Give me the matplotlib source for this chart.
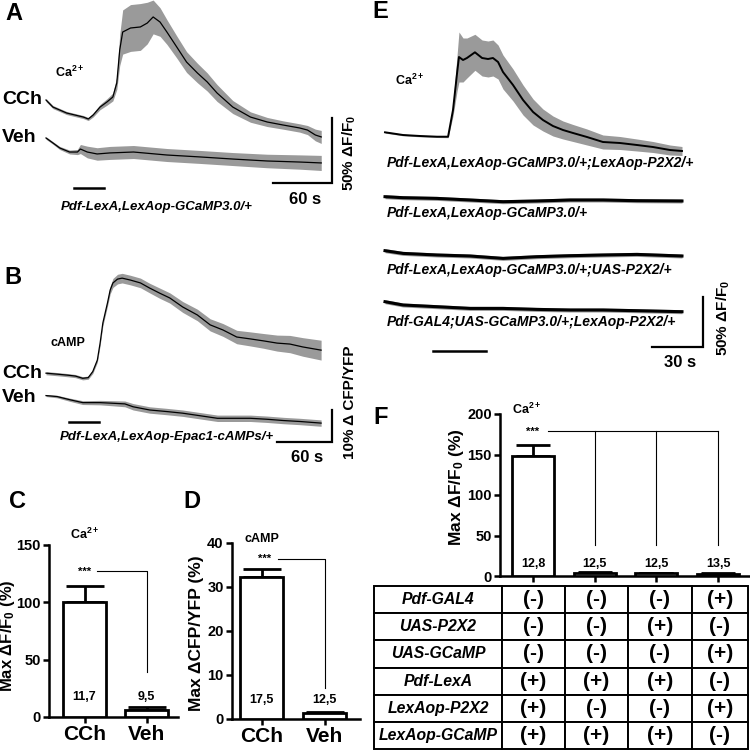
import matplotlib
matplotlib.use('Agg')
import matplotlib.pyplot as plt
import numpy as np

plt.rcParams['font.family'] = ['Liberation Sans', 'DejaVu Sans']
plt.rcParams['font.weight'] = 'bold'
plt.rcParams['mathtext.fontset'] = 'custom'
plt.rcParams['mathtext.rm'] = 'Liberation Sans:bold'
plt.rcParams['mathtext.bf'] = 'Liberation Sans:bold'
plt.rcParams['mathtext.it'] = 'Liberation Sans:bold:italic'
plt.rcParams['mathtext.default'] = 'bf'

# ---------------- data ----------------
# Panel A (Ca2+, GCaMP3.0): time (s), dF/F (%), SEM (%)
a_cch_t = [0, 7, 21, 38, 43, 48, 55, 62, 68, 72, 75, 78, 86, 96, 103, 109, 116, 123, 133, 143,
           154, 164, 174, 190, 208, 225, 241, 258, 266, 274, 280]
a_cch_v = [14.6, 9.2, 4.6, 1.5, 0.0, 3.1, 9.2, 13.1, 16.9, 27.7, 53.1, 66.9, 70.0, 70.8, 73.8, 78.5,
           74.6, 66.9, 55.4, 43.8, 35.4, 28.5, 20.0, 9.2, 1.5, -2.3, -4.6, -6.9, -8.5, -12.3, -13.8]
a_cch_sem = [1.2, 1.2, 1.2, 1.2, 1.2, 1.5, 2, 2.5, 3, 5, 12, 17, 18, 18, 16, 13, 11, 9.5, 8.5, 8,
             7.5, 7, 6.5, 5, 4, 3.5, 3.2, 3.2, 3.5, 4.5, 5]
a_veh_t = [0, 7, 14, 24, 32, 35, 42, 52, 65, 89, 123, 157, 190, 225, 258, 280]
a_veh_v = [0, -3.8, -7.7, -10.8, -10.8, -8.5, -10.8, -12.3, -11.5, -10.8, -13.1, -14.6, -16.2,
           -17.7, -18.5, -19.2]
a_veh_sem = [1, 1, 1.2, 1.5, 2, 3.5, 4.5, 4.8, 5, 5, 5, 5, 5, 5.2, 5.5, 5.8]

# Panel B (cAMP, Epac1-cAMPs): time (s), dCFP/YFP (%), SEM (%)
b_cch_t = [0, 12, 23, 32, 40, 46, 51, 56, 59, 62, 67, 70, 73, 78, 83, 92, 103, 113, 124, 135,
           149, 165, 179, 193, 208, 223, 237, 252, 266, 280, 300]
b_cch_v = [1.6, 1.3, 1.0, 0.7, 0.0, 0.2, 2.1, 5.7, 11.0, 17.3, 23.5, 27.6, 29.8, 31.0, 31.3, 30.7,
           29.8, 28.2, 26.6, 25.1, 22.3, 19.8, 16.7, 15.1, 12.9, 12.3, 11.7, 11.0, 10.7, 9.8, 8.8]
b_cch_sem = [0.5, 0.5, 0.5, 0.5, 0.5, 0.5, 0.6, 0.7, 0.8, 0.9, 1.0, 1.2, 1.4, 1.5, 1.5, 1.5, 1.5,
             1.5, 1.6, 1.6, 1.7, 1.8, 1.9, 2.0, 2.1, 2.2, 2.3, 2.5, 2.7, 2.9, 3.1]
b_veh_t = [0, 12, 26, 40, 59, 73, 86, 95, 113, 132, 149, 168, 187, 204, 223, 241, 259, 277, 300]
b_veh_v = [0, -0.3, -1.3, -2.2, -2.2, -2.4, -2.6, -3.5, -4.5, -5.0, -5.5, -6.3, -7.1, -7.1, -7.1,
           -7.4, -7.8, -8.1, -8.6]
b_veh_sem = [0.3, 0.4, 0.5, 0.6, 0.7, 0.8, 0.9, 1.0, 1.0, 1.0, 1.0, 1.0, 1.0, 1.0, 1.0, 1.0, 1.0,
             1.0, 1.0]

# Panel E (Ca2+ response to ATP via P2X2): time (s), dF/F (%), SEM (%)
e_p2x2_t = [0, 10.6, 20.6, 30.6, 37.1, 40.0, 42.4, 43.5, 45.9, 48.2, 52.9, 57.1, 60.6, 63.5, 66.5,
            69.4, 75.3, 81.2, 87.1, 92.9, 98.8, 104.7, 110.6, 118.8, 128.2, 138.2, 148.2, 157.6,
            167.6, 174.7]
e_p2x2_v = [4.7, 2.0, 1.0, 0.3, 0.3, 27, 64, 80, 77, 79, 84.7, 79, 78, 79, 75, 65, 52, 37, 25, 17,
            11, 7, 4, 0, -5, -6, -8, -10, -13, -14]
e_p2x2_sem = [0.8, 0.8, 0.8, 0.8, 1, 6, 18, 25, 22, 20, 18, 18, 18, 18, 17, 17, 16, 15, 13, 11,
              10, 9, 8.5, 8, 7, 6.5, 6, 5.5, 5, 4.5]
e_ctrl_t = [0, 10.6, 30.6, 50.0, 69.4, 89.4, 108.8, 128.2, 148.2, 174.7]
e_ctrl1_v = [0, -1, -1.7, -3.3, -5, -4.3, -3.3, -3.3, -4, -4.3]
e_ctrl2_v = [0, -2.7, -4.3, -5.3, -7.7, -6, -5, -4.3, -3.7, -5.3]
e_ctrl3_v = [0, -3.3, -5, -6.7, -6.7, -7.7, -8.3, -8.3, -9, -10]
e_labels = ['Pdf-LexA,LexAop-GCaMP3.0/+;LexAop-P2X2/+',
            'Pdf-LexA,LexAop-GCaMP3.0/+',
            'Pdf-LexA,LexAop-GCaMP3.0/+;UAS-P2X2/+',
            'Pdf-GAL4;UAS-GCaMP3.0/+;LexAop-P2X2/+']

# Panel C
c_groups = ['CCh', 'Veh']
c_means = [100, 6]
c_errs = [14, 2.5]
c_n = ['11,7', '9,5']
# Panel D
d_groups = ['CCh', 'Veh']
d_means = [32.2, 1.3]
d_errs = [1.8, 0.4]
d_n = ['17,5', '12,5']
# Panel F
f_means = [148, 4.2, 3.3, 2.5]
f_errs = [14, 1.3, 1.0, 0.8]
f_n = ['12,8', '12,5', '12,5', '13,5']
table_rows = ['Pdf-GAL4', 'UAS-P2X2', 'UAS-GCaMP', 'Pdf-LexA', 'LexAop-P2X2', 'LexAop-GCaMP']
table_marks = [['(-)', '(-)', '(-)', '(+)'],
               ['(-)', '(-)', '(+)', '(-)'],
               ['(-)', '(-)', '(-)', '(+)'],
               ['(+)', '(+)', '(+)', '(-)'],
               ['(+)', '(-)', '(-)', '(+)'],
               ['(+)', '(+)', '(+)', '(-)']]

# ---------------- figure ----------------
W, H = 750, 751
fig = plt.figure(figsize=(W / 100, H / 100), dpi=100)
GREY = '#9a9a9a'


def pax(x0, y0, x1, y1):
    return fig.add_axes([x0 / W, 1 - y1 / H, (x1 - x0) / W, (y1 - y0) / H])


def ftxt(x, y, s, **kw):
    kw.setdefault('ha', 'center')
    kw.setdefault('va', 'center')
    fig.text(x / W, 1 - y / H, s, **kw)


def trace_axes(box, t0px, pps, basepx, ppu):
    x0, y0, x1, y1 = box
    ax = pax(x0, y0, x1, y1)
    ax.set_xlim((x0 - t0px) / pps, (x1 - t0px) / pps)
    ax.set_ylim((basepx - y1) / ppu, (basepx - y0) / ppu)
    ax.axis('off')
    return ax


def trace(ax, t, v, sem, off=0.0, lw=0.9):
    t = np.asarray(t, float)
    v = np.asarray(v, float) + off
    s = np.asarray(sem, float)
    ax.fill_between(t, v - s, v + s, color=GREY, lw=0)
    ax.plot(t, v, color='black', lw=lw)


def scalebar(ax, x0, x1, y0, y1):
    ax.plot([x0, x1, x1], [y0, y0, y1], color='black', lw=1.6, clip_on=False,
            solid_joinstyle='miter')


# ---- Panel A ----
axA = trace_axes((40, 0, 345, 198), 46, 0.983, 119, 1.3)
trace(axA, a_cch_t, a_cch_v, a_cch_sem)
trace(axA, a_veh_t, a_veh_v, a_veh_sem, off=-14.6)
axA.plot([28, 59], [-53.1, -53.1], color='black', lw=1.8)
scalebar(axA, 231, 291, -49.2, 0.8)
ftxt(14, 14, 'A', fontsize=17)
ftxt(2, 100, 'CCh', fontsize=14, ha='left')
ftxt(2, 137, 'Veh', fontsize=14, ha='left')
ftxt(70, 72, 'Ca$^{2+}$', fontsize=9)
ftxt(157, 207, 'Pdf-LexA,LexAop-GCaMP3.0/+', fontsize=9.5, style='italic')
ftxt(305, 200, '60 s', fontsize=12)
ftxt(349, 153, '50% ΔF/F$_0$', fontsize=11, rotation=90)

# ---- Panel B ----
axB = trace_axes((40, 260, 345, 450), 46, 0.917, 378.3, 3.2)
trace(axB, b_cch_t, b_cch_v, b_cch_sem)
trace(axB, b_veh_t, b_veh_v, b_veh_sem, off=-5.4)
axB.plot([25, 58], [-13.7, -13.7], color='black', lw=1.8)
scalebar(axB, 252, 312, -19.9, -9.9)
ftxt(13, 278, 'B', fontsize=17)
ftxt(68, 343, 'cAMP', fontsize=9)
ftxt(2, 373, 'CCh', fontsize=14, ha='left')
ftxt(2, 397, 'Veh', fontsize=14, ha='left')
ftxt(167, 437, 'Pdf-LexA,LexAop-Epac1-cAMPs/+', fontsize=9.5, style='italic')
ftxt(307, 457, '60 s', fontsize=12)
ftxt(350, 402, '10% Δ CFP/YFP', fontsize=11, rotation=90)

# ---- Panel E ----
axE = trace_axes((378, 20, 712, 360), 385, 1.7, 137, 1.0)
trace(axE, e_p2x2_t, e_p2x2_v, e_p2x2_sem, lw=1.4)
for vals, off in [(e_ctrl1_v, -59.7), (e_ctrl2_v, -113.7), (e_ctrl3_v, -164.7)]:
    trace(axE, e_ctrl_t, vals, [2.0] * len(vals), off=off, lw=2.2)
axE.plot([28.2, 59.4], [-214, -214], color='black', lw=1.8)
scalebar(axE, 157, 187, -210, -160)
ftxt(380, 12, 'E', fontsize=17)
ftxt(410, 80, 'Ca$^{2+}$', fontsize=9)
for lab, yy in zip(e_labels, [163, 213, 270, 322]):
    ftxt(387, yy, lab, fontsize=10, style='italic', ha='left')
ftxt(680, 363, '30 s', fontsize=12)
ftxt(723, 318, '50% ΔF/F$_0$', fontsize=11, rotation=90)


# ---- bar panels ----
def bar_axes(box, ylim, yticks, xlim):
    ax = pax(*box)
    ax.set_ylim(*ylim)
    ax.set_xlim(*xlim)
    ax.patch.set_alpha(0)
    for s in ['top', 'right']:
        ax.spines[s].set_visible(False)
    for s in ['left', 'bottom']:
        ax.spines[s].set_linewidth(1.8)
    ax.tick_params(width=1.8, length=4, labelsize=10.5, pad=2)
    ax.set_yticks(yticks)
    return ax


def bars(ax, means, errs, cap):
    x = np.arange(len(means))
    ax.bar(x, means, width=0.68, color='white', edgecolor='black', lw=2, zorder=3)
    ax.errorbar(x, means, yerr=[np.zeros(len(means)), errs], fmt='none', ecolor='black',
                elinewidth=2, capsize=cap, capthick=2, zorder=2)
    return x


# C
axC = bar_axes((49, 545, 178, 717), (0, 150), [0, 50, 100, 150], (-0.573, 1.508))
xc = bars(axC, c_means, c_errs, 14)
axC.set_xticks(xc)
axC.set_xticklabels(c_groups, fontsize=15)
axC.plot([0.2, 1, 1], [127, 127, 39], color='black', lw=0.8)
axC.text(0, 127, '***', fontsize=8, ha='center', va='center')
for xi, s in zip(xc, c_n):
    axC.text(xi, 17.6, s, fontsize=9, ha='center', va='center')
axC.text(0, 159, 'Ca$^{2+}$', fontsize=9, ha='center', va='center')
ftxt(17, 502, 'C', fontsize=17)
ftxt(8, 636, 'Max ΔF/F$_0$ (%)', fontsize=12, rotation=90)

# D
axD = bar_axes((232, 543, 360, 719), (0, 40), [0, 10, 20, 30, 40], (-0.471, 1.560))
xd = bars(axD, d_means, d_errs, 14)
axD.set_xticks(xd)
axD.set_xticklabels(d_groups, fontsize=15)
axD.plot([0.26, 1, 1], [36.4, 36.4, 7], color='black', lw=0.8)
axD.text(0.05, 36.4, '***', fontsize=8, ha='center', va='center')
for xi, s in zip(xd, d_n):
    axD.text(xi, 4.3, s, fontsize=9, ha='center', va='center')
axD.text(0, 40.8, 'cAMP', fontsize=9, ha='center', va='center')
ftxt(192, 502, 'D', fontsize=17)
ftxt(197, 633, 'Max ΔCFP/YFP (%)', fontsize=12.5, rotation=90)

# F
axF = bar_axes((500, 414, 750, 576), (0, 200), [0, 50, 100, 150, 200], (-0.535, 3.517))
xf = bars(axF, f_means, f_errs, 12)
axF.set_xticks(xf)
axF.set_xticklabels([])
axF.plot([0.24, 3], [179, 179], color='black', lw=0.8)
for xi in xf[1:]:
    axF.plot([xi, xi], [179, 38], color='black', lw=0.8)
axF.text(0, 178, '***', fontsize=8, ha='center', va='center')
for xi, s in zip(xf, f_n):
    axF.text(xi, 15, s, fontsize=9, ha='center', va='center')
axF.text(-0.1, 206, 'Ca$^{2+}$', fontsize=9, ha='center', va='center')
ftxt(381, 418, 'F', fontsize=17)
ftxt(456, 487, 'Max ΔF/F$_0$ (%)', fontsize=12.5, rotation=90)

# table
axT = pax(374, 586, 748, 749)
axT.axis('off')
cell_text = [[r] + m for r, m in zip(table_rows, table_marks)]
widths = np.array([128, 63, 63, 64, 56], float)
tab = axT.table(cellText=cell_text, bbox=[0, 0, 1, 1], colWidths=list(widths / widths.sum()),
                cellLoc='center')
tab.auto_set_font_size(False)
for (r, c), cell in tab.get_celld().items():
    cell.set_linewidth(1.4)
    t = cell.get_text()
    if c == 0:
        t.set_fontsize(11.3)
        t.set_fontstyle('italic')
        t.set_fontweight('bold')
    else:
        t.set_fontsize(15)
        t.set_fontweight('bold')

fig.savefig('out.png', dpi=100)
